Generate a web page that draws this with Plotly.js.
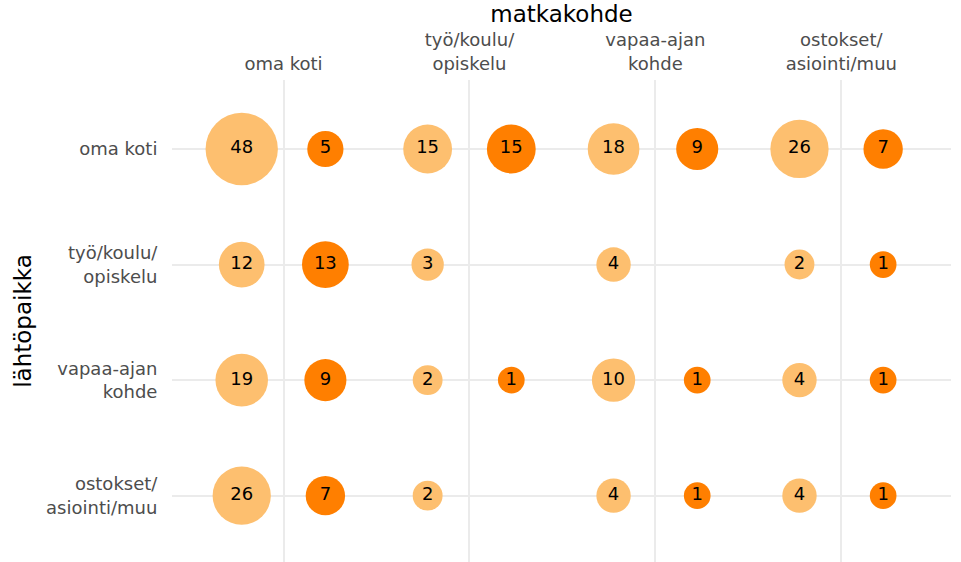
<!DOCTYPE html>
<html>
<head>
<meta charset="utf-8">
<script src="https://cdn.plot.ly/plotly-3.0.1.min.js"></script>
<style>html,body{margin:0;padding:0;background:#fff;}#chart{width:961px;height:562px;}</style>
</head>
<body>
<div id="chart"></div>
<script>
// Categories (same for origin rows and destination columns)
const destinations = ['oma koti', 'työ/koulu/<br>opiskelu', 'vapaa-ajan<br>kohde', 'ostokset/<br>asiointi/muu'];
const origins = ['oma koti', 'työ/koulu/<br>opiskelu', 'vapaa-ajan<br>kohde', 'ostokset/<br>asiointi/muu'];

// Light series values: rows = origin, columns = destination
const lightOmaKoti   = [48, 15, 18, 26];
const lightTyo       = [12, 3, 4, 2];
const lightVapaa     = [19, 2, 10, 4];
const lightOstokset  = [26, 2, 4, 4];

// Dark series values (null = no bubble)
const darkOmaKoti   = [5, 15, 9, 7];
const darkTyo       = [13, null, null, 1];
const darkVapaa     = [9, 1, 1, 1];
const darkOstokset  = [7, null, 1, 1];

const lightRows = [lightOmaKoti, lightTyo, lightVapaa, lightOstokset];
const darkRows = [darkOmaKoti, darkTyo, darkVapaa, darkOstokset];

const FONT = 'DejaVu Sans, Verdana, sans-serif';
function diam(v) { return 19 + 7.7 * Math.sqrt(v); }

function makeTrace(rows, offset, color) {
  const x = [], y = [], t = [], s = [];
  rows.forEach((row, r) => {
    row.forEach((v, c) => {
      if (v === null || v === undefined) return;
      x.push(c + offset); y.push(r); t.push(String(v)); s.push(diam(v));
    });
  });
  return {
    type: 'scatter', mode: 'markers+text', x: x, y: y, text: t,
    textposition: 'middle center',
    textfont: {family: FONT, size: 18, color: '#000000'},
    marker: {size: s, sizemode: 'diameter', color: color, line: {width: 0}, opacity: 1},
    hoverinfo: 'skip', showlegend: false, cliponaxis: false
  };
}

const data = [
  makeTrace(lightRows, -0.225, '#FDBF6F'),
  makeTrace(darkRows, 0.225, '#FF7F00')
];

const layout = {
  width: 961, height: 562,
  margin: {l: 172, r: 10, t: 80, b: 0, pad: 0},
  paper_bgcolor: '#ffffff', plot_bgcolor: '#ffffff',
  font: {family: FONT, size: 18, color: '#4d4d4d'},
  showlegend: false,
  xaxis: {
    side: 'top', range: [-0.6, 3.59],
    tickmode: 'array', tickvals: [0, 1, 2, 3], ticktext: destinations,
    showgrid: true, gridcolor: '#ebebeb', gridwidth: 2,
    zeroline: false, showline: false,
    ticks: 'outside', ticklen: 2, tickcolor: 'rgba(0,0,0,0)',
    tickfont: {family: FONT, size: 18, color: '#4d4d4d'},
    title: {text: 'matkakohde', font: {family: FONT, size: 23, color: '#000000'}, standoff: 0},
    fixedrange: true
  },
  yaxis: {
    range: [3.574, -0.597],
    tickmode: 'array', tickvals: [0, 1, 2, 3], ticktext: origins,
    showgrid: true, gridcolor: '#ebebeb', gridwidth: 2,
    zeroline: false, showline: false,
    ticks: 'outside', ticklen: 10, tickcolor: 'rgba(0,0,0,0)',
    tickfont: {family: FONT, size: 18, color: '#4d4d4d'},
    title: {text: 'lähtöpaikka', font: {family: FONT, size: 23, color: '#000000'}, standoff: 8},
    fixedrange: true
  }
};

Plotly.newPlot('chart', data, layout, {staticPlot: true, displayModeBar: false});
</script>
</body>
</html>
